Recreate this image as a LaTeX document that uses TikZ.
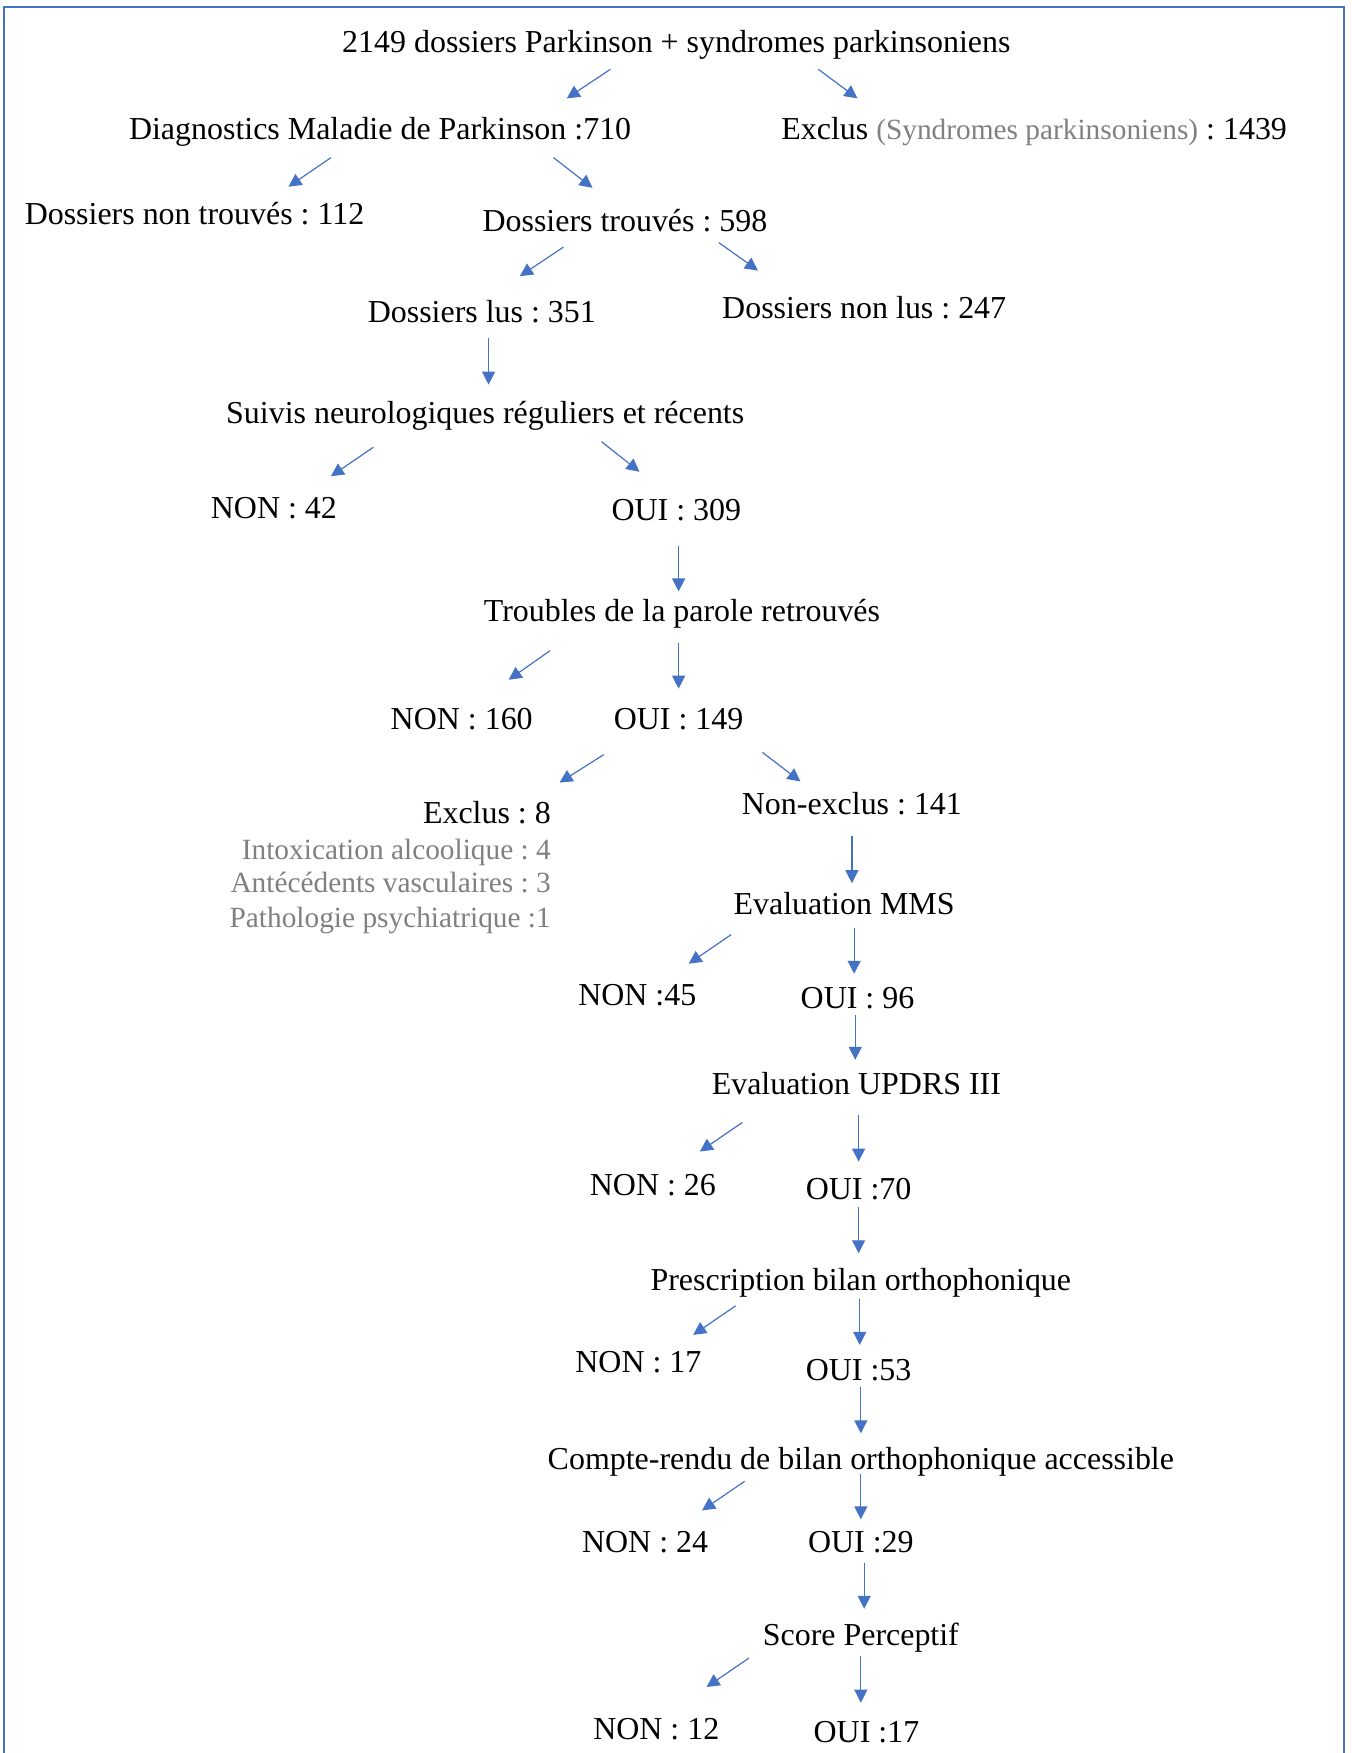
\documentclass[tikz,border=0pt]{standalone}
\usepackage{fontspec}
\setmainfont{Liberation Serif}
\usetikzlibrary{arrows.meta, positioning}
\usepackage{xcolor}
\definecolor{officeblue}{RGB}{68,114,196}
\definecolor{softgrey}{RGB}{128,128,128}
\newcommand{\greytext}[1]{{\fontsize{14.7pt}{17pt}\selectfont\color{softgrey}#1}}
\frenchspacing

\begin{document}
\begin{tikzpicture}[
        x=0.56pt, y=-0.56pt,
        step label/.style={font=\fontsize{16pt}{17pt}\selectfont, inner sep=0pt, text height=14.4pt, text depth=3.5pt},
        why label/.style={step label, anchor=east},
        flowarrow/.style={draw=officeblue, line width=0.6pt, -{Triangle[length=6.5pt, width=6.5pt]}, officeblue},
        frameline/.style={draw=officeblue, line width=1.1pt}
        ]

        %% Page and frame
        \useasboundingbox (0,0) rectangle (1209,1568);
        \draw[frameline] (3.6,1575) -- (3.6,6.3) -- (1202,6.3) -- (1202,1575);

        %% Steps
        \node[step label] (top) at (605,37) {2149 dossiers Parkinson + syndromes parkinsoniens};
        \node[step label] (diag) at (340,115) {Diagnostics Maladie de Parkinson :710};
        \node[step label] (excl) at (925,115) {Exclus \greytext{(Syndromes parkinsoniens)} : 1439};
        \node[step label] (nontr) at (174,191) {Dossiers non trouvés : 112};
        \node[step label] (trouv) at (559,197) {Dossiers trouvés : 598};
        \node[step label] (lus) at (431,279) {Dossiers lus : 351};
        \node[step label] (nonlus) at (773,275) {Dossiers non lus : 247};
        \node[step label] (suivis) at (434,369) {Suivis neurologiques réguliers et récents};
        \node[step label] (non42) at (245,454) {NON : 42};
        \node[step label] (oui309) at (605,456) {OUI : 309};
        \node[step label] (troub) at (610,546) {Troubles de la parole retrouvés};
        \node[step label] (non160) at (413,643) {NON : 160};
        \node[step label] (oui149) at (607,643) {OUI : 149};
        \node[step label, anchor=east] (excl8) at (493,727) {Exclus : 8};
        \node[why label] (alc) at (493,759) {\greytext{Intoxication alcoolique : 4}};
        \node[why label] (vasc) at (493,789) {\greytext{Antécédents vasculaires : 3}};
        \node[why label] (psy) at (493,820) {\greytext{Pathologie psychiatrique :1}};
        \node[step label] (nonexcl) at (762,719) {Non-exclus : 141};
        \node[step label] (mms) at (755,808) {Evaluation MMS};
        \node[step label] (non45) at (570,890) {NON :45};
        \node[step label] (oui96) at (767,892) {OUI : 96};
        \node[step label] (updrs) at (766,969) {Evaluation UPDRS III};
        \node[step label] (non26) at (584,1060) {NON : 26};
        \node[step label] (oui70) at (768,1063) {OUI :70};
        \node[step label] (presc) at (770,1145) {Prescription bilan orthophonique};
        \node[step label] (non17) at (571,1218) {NON : 17};
        \node[step label] (oui53) at (768,1225) {OUI :53};
        \node[step label] (cr) at (770,1305) {Compte-rendu de bilan orthophonique accessible};
        \node[step label] (non24) at (577,1379) {NON : 24};
        \node[step label] (oui29) at (770,1379) {OUI :29};
        \node[step label] (score) at (770,1462) {Score Perceptif};
        \node[step label] (non12) at (587,1546) {NON : 12};
        \node[step label] (oui17) at (775,1549) {OUI :17};

        %% Arrows (offsets from the node centres)
        \foreach \from/\fx/\fy/\to/\tx/\ty in {
                top/-59/25/diag/167/-27, top/127/25/excl/-158/-27,
                diag/-44/26/nontr/84/-24, diag/155/26/trouv/-29/-29,
                trouv/-55/24/lus/34/-32, trouv/84/20/nonlus/-95/-33,
                lus/6/23/suivis/3/-25,
                suivis/-100/31/non42/51/-28, suivis/104/26/oui309/-33/-34,
                oui309/2/32/troub/-3/-17,
                troub/-118/36/non160/42/-35, troub/-3/29/oui149/0/-27,
                oui149/-67/32/excl8/65/-27, oui149/75/30/nonexcl/-46/-20,
                nonexcl/0/29/mms/7/-18,
                mms/-101/28/non45/46/-28, mms/9/22/oui96/-3/-21,
                oui96/-2/16/updrs/-1/-21,
                updrs/-102/35/non26/42/-30, updrs/2/28/oui70/0/-24,
                oui70/0/17/presc/-2/-24,
                presc/-112/23/non17/49/-24, presc/-1/17/oui53/1/-22,
                oui53/2/16/cr/0/-23,
                cr/-104/20/non24/51/-28, cr/0/13/oui29/0/-20,
                oui29/3/19/score/3/-23,
                score/-100/21/non12/45/-37, score/0/19/oui17/-5/-26} {
            \draw[flowarrow] ([shift={(\fx,\fy)}]\from.center) -- ([shift={(\tx,\ty)}]\to.center);
        }
\end{tikzpicture}
\end{document}
